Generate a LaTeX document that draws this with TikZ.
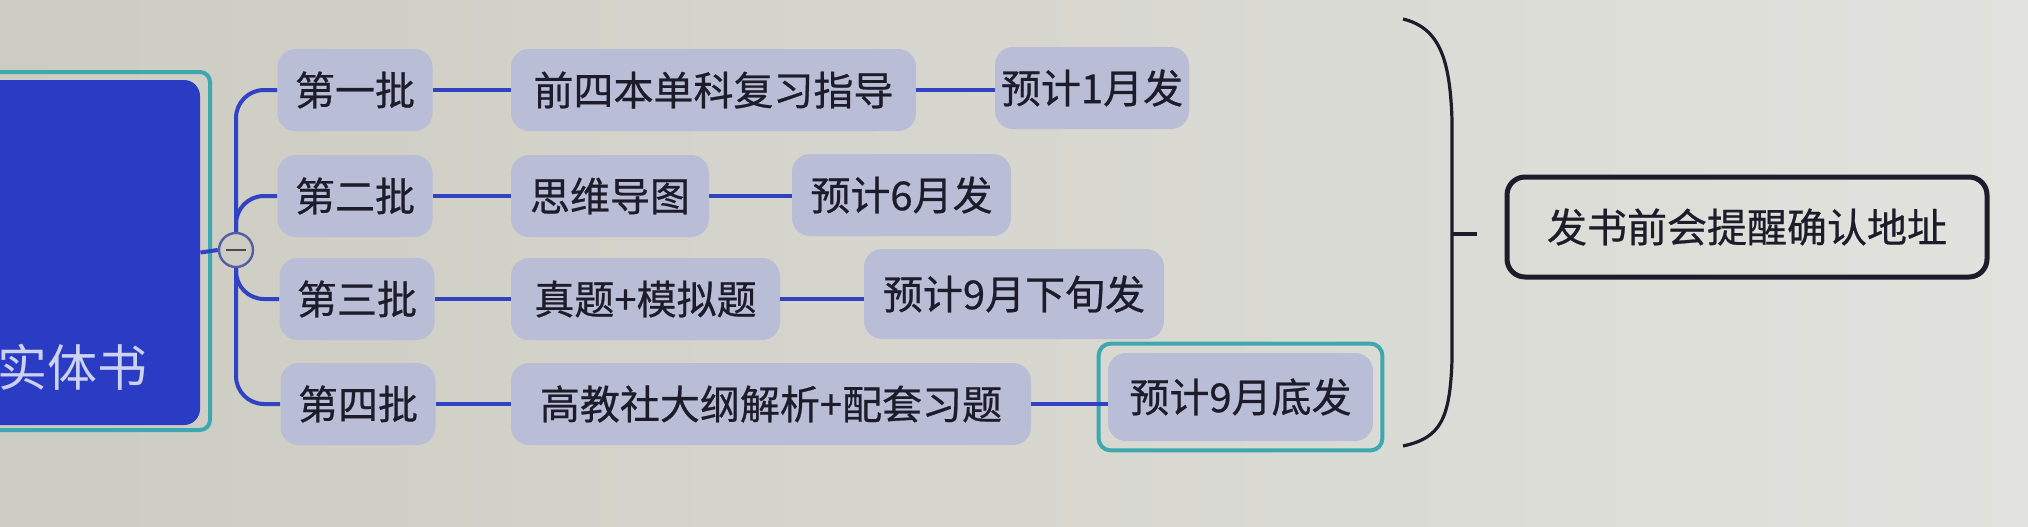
\documentclass[tikz,border=0pt]{standalone}
\usepackage{fontspec}
\setmainfont{Noto Sans CJK SC}
\newfontfamily\medcjk{Noto Sans CJK SC}[FakeBold=0.6]
\usetikzlibrary{calc}
\definecolor{bgA}{RGB}{204,204,194}
\definecolor{bgB}{RGB}{226,226,222}
\definecolor{nodefill}{RGB}{186,189,214}
\definecolor{linkblue}{RGB}{50,66,196}
\definecolor{rootblue}{RGB}{42,60,196}
\definecolor{selteal}{RGB}{62,168,176}
\definecolor{ink}{RGB}{28,28,42}
\definecolor{roottext}{RGB}{205,210,240}
\begin{document}
\begin{tikzpicture}[x=0.5pt,y=-0.5pt,
  topic/.style={fill=nodefill, rounded corners=9pt, text=ink, font=\medcjk\fontsize{20}{24}\selectfont, inner sep=0pt, minimum height=41pt},
  link/.style={draw=linkblue, line width=2pt},
  branch/.style={link, rounded corners=14pt},
]
\useasboundingbox (0,0) rectangle (2028,526);
\shade[left color=bgA, right color=bgB] (0,0) rectangle (2028,526);

% root
\draw[selteal, line width=2pt, rounded corners=5pt] (-30,72) rectangle (210,430);
\node[fill=rootblue, rounded corners=8pt, minimum width=120pt, minimum height=172.5pt, inner sep=0pt] (root) at (80,252.5) {};
\node[text=roottext, font=\fontsize{25}{30}\selectfont, inner sep=0pt] (rootlabel) at (72,367) {实体书};

% collapse toggle
\node[circle, draw=linkblue!55!gray, fill=bgA, line width=1.2pt, minimum size=17pt, inner sep=0pt] (tog) at (236,250) {};
\draw[ink!80, line width=1.2pt] ($(tog.center)+(-10,0)$) -- ($(tog.center)+(10,0)$);

% level 1
\node[topic, minimum width=77.5pt] (b1) at (355,90) {第一批};
\node[topic, minimum width=77.5pt] (b2) at (355,196) {第二批};
\node[topic, minimum width=77.5pt] (b3) at (357,299) {第三批};
\node[topic, minimum width=77.5pt] (b4) at (358,404) {第四批};

% level 2
\node[topic, minimum width=202.5pt] (c1) at (713.5,90) {前四本单科复习指导};
\node[topic, minimum width=99pt] (c2) at (610,196) {思维导图};
\node[topic, minimum width=134.5pt] (c3) at (645.5,299) {真题+模拟题};
\node[topic, minimum width=260pt] (c4) at (771,404) {高教社大纲解析+配套习题};

% level 3
\node[topic, minimum width=97pt] (d1) at (1092,88) {预计1月发};
\node[topic, minimum width=109.5pt] (d2) at (901.5,195) {预计6月发};
\node[topic, minimum width=150pt, minimum height=45pt] (d3) at (1014,294) {预计9月下旬发};
\node[topic, minimum width=132.5pt, minimum height=44pt] (d4) at (1240.5,397) {预计9月底发};
\draw[selteal, line width=2pt, rounded corners=6pt] ($(d4.north west)+(-9,-9)$) rectangle ($(d4.south east)+(9,9)$);

% connectors
\draw[link] (root.east) -- (tog.west);
\draw[branch] (tog.north) |- (b1.west);
\draw[branch] (tog.north) |- (b2.west);
\draw[branch] (tog.south) |- (b3.west);
\draw[branch] (tog.south) |- (b4.west);
\draw[link] (b1.east) -- (c1.west);
\draw[link] (b2.east) -- (c2.west);
\draw[link] (b3.east) -- (c3.west);
\draw[link] (b4.east) -- (c4.west);
\draw[link] (c1.east) -- (c1.east -| d1.west);
\draw[link] (c2.east) -- (c2.east -| d2.west);
\draw[link] (c3.east) -- (c3.east -| d3.west);
\draw[link] (c4.east) -- (c4.east -| d4.west);

% summary bracket
\coordinate (brtop) at (1403,19);
\coordinate (brbot) at (1403,446);
\coordinate (brmid) at (1452,234);
\coordinate (brtick) at (1477,234);
\draw[ink, line width=1.6pt] (brtop) .. controls (1440,28) and (1450,60) .. (1452,120) -- (1452,360) .. controls (1450,420) and (1440,438) .. (brbot);
\draw[ink, line width=1.6pt] (brmid) -- (brtick);
\node[draw=ink, line width=2.5pt, rounded corners=9pt, minimum width=240pt, minimum height=50pt, inner sep=0pt, text=ink, font=\medcjk\fontsize{20}{24}\selectfont] (sum) at (1747,227) {发书前会提醒确认地址};
\end{tikzpicture}
\end{document}
